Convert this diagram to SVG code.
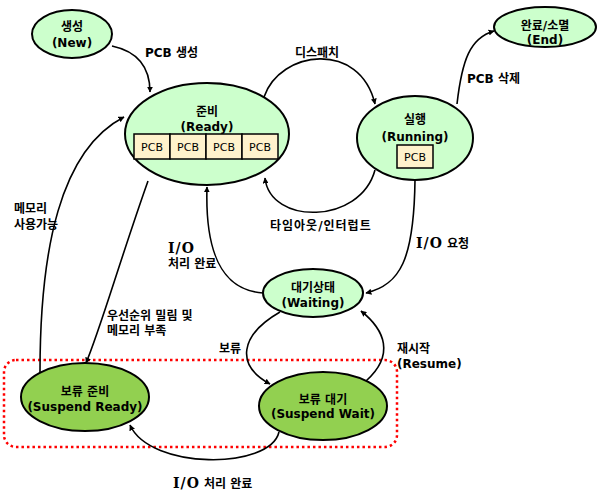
<svg xmlns="http://www.w3.org/2000/svg" width="599" height="495" viewBox="0 0 599 495">
<style>
.n{fill:#ccffcc;stroke:#000;stroke-width:2}
.s{fill:#92d050;stroke:#000;stroke-width:2}
.p{fill:#fff2cc;stroke:#000;stroke-width:1.5}
.t{font-family:"DejaVu Sans","Noto Sans CJK KR",sans-serif;font-weight:bold;font-size:12px;fill:#000}
.c{text-anchor:middle}
.pt{font-family:"DejaVu Sans",sans-serif;font-size:11px;text-anchor:middle;fill:#000}
.io{font-family:"DejaVu Serif",serif;font-weight:bold;font-size:14px;letter-spacing:1px}
.e{fill:none;stroke:#000;stroke-width:1.6;marker-end:url(#a)}
</style>
<defs>
<marker id="a" viewBox="0 0 10 10" refX="9" refY="5" markerWidth="6" markerHeight="6" orient="auto" markerUnits="userSpaceOnUse">
<path d="M0,0 L10,5 L0,10 z" fill="#000"/>
</marker>
</defs>
<rect x="4" y="360" width="393" height="87" rx="12" fill="none" stroke="#ff0000" stroke-width="2.5" stroke-dasharray="2.5 3"/>
<g id="connectors">
<path class="e" d="M112,46 C140,52 150,70 150,92"/>
<path class="e" d="M264,97 C280,50 360,40 375,104"/>
<path class="e" d="M375,170 C360,225 270,225 265,178"/>
<path class="e" d="M457,104 C462,60 470,38 494,31"/>
<path class="e" d="M415,180 C414,260 400,285 366,293"/>
<path class="e" d="M263,293 C220,290 205,250 207,187"/>
<path class="e" d="M148,181 C120,260 100,330 86,363"/>
<path class="e" d="M40,372 C40,250 60,150 124,117"/>
<path class="e" d="M280,312 C240,335 235,365 270,384"/>
<path class="e" d="M366,381 C395,355 385,330 361,311"/>
<path class="e" d="M279,432 C270,470 150,470 130,425"/>
</g>
<g id="new">
<ellipse class="n" cx="72" cy="34" rx="40" ry="24"/>
<text class="t c" x="72" y="31">생성</text>
<text class="t c" x="72" y="47">(New)</text>
</g>
<g id="ready">
<ellipse class="n" cx="207" cy="134" rx="82" ry="51"/>
<text class="t c" x="207" y="116">준비</text>
<text class="t c" x="207" y="131">(Ready)</text>
<rect class="p" x="134" y="134" width="36" height="25"/>
<rect class="p" x="170" y="134" width="36" height="25"/>
<rect class="p" x="206" y="134" width="36" height="25"/>
<rect class="p" x="242" y="134" width="36" height="25"/>
<text class="pt" x="152" y="151">PCB</text>
<text class="pt" x="188" y="151">PCB</text>
<text class="pt" x="224" y="151">PCB</text>
<text class="pt" x="260" y="151">PCB</text>
</g>
<g id="running">
<ellipse class="n" cx="415" cy="138" rx="58" ry="42"/>
<text class="t c" x="415" y="124">실행</text>
<text class="t c" x="415" y="141">(Running)</text>
<rect class="p" x="397" y="145" width="36" height="23"/>
<text class="pt" x="415" y="161">PCB</text>
</g>
<g id="end">
<ellipse class="n" cx="545" cy="27" rx="51" ry="20"/>
<text class="t c" x="545" y="30">완료/소멸</text>
<text class="t c" x="545" y="44">(End)</text>
</g>
<g id="waiting">
<ellipse class="n" cx="313" cy="293" rx="50" ry="24"/>
<text class="t c" x="313" y="292">대기상태</text>
<text class="t c" x="313" y="307">(Waiting)</text>
</g>
<g id="suspend-ready">
<ellipse class="s" cx="85" cy="397" rx="64" ry="34"/>
<text class="t c" x="85" y="396">보류 준비</text>
<text class="t c" x="85" y="411">(Suspend Ready)</text>
</g>
<g id="suspend-wait">
<ellipse class="s" cx="323" cy="406" rx="64" ry="34"/>
<text class="t c" x="323" y="404">보류 대기</text>
<text class="t c" x="323" y="418">(Suspend Wait)</text>
</g>
<g id="labels">
<text class="t" x="145" y="57">PCB 생성</text>
<text class="t" x="295" y="57">디스패치</text>
<text class="t" x="467" y="83">PCB 삭제</text>
<text class="t" x="270" y="230" letter-spacing="1">타임아웃/인터럽트</text>
<text class="t" x="416" y="248"><tspan class="io">I/O</tspan> 요청</text>
<text class="t" x="168" y="253"><tspan class="io">I/O</tspan></text>
<text class="t" x="168" y="268">처리 완료</text>
<text class="t" x="14" y="213">메모리</text>
<text class="t" x="14" y="229">사용가능</text>
<text class="t" x="107" y="320">우선순위 밀림 및</text>
<text class="t" x="107" y="335">메모리 부족</text>
<text class="t" x="219" y="353">보류</text>
<text class="t" x="397" y="353">재시작</text>
<text class="t" x="397" y="368">(Resume)</text>
<text class="t" x="173" y="488"><tspan class="io">I/O</tspan> 처리 완료</text>
</g>
</svg>
